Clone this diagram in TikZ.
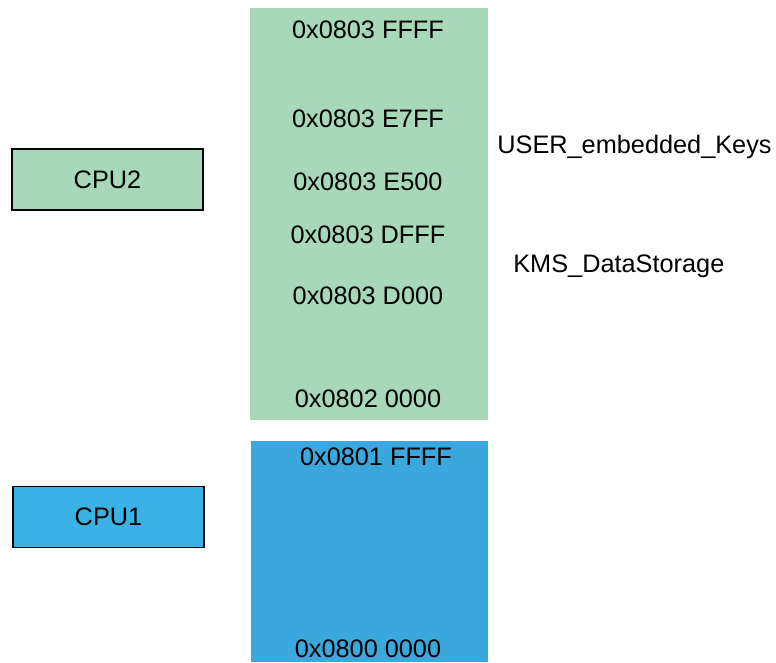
\documentclass[tikz,border=0pt]{standalone}
\usepackage{fontspec}
\setmainfont{Liberation Sans}
\usepackage{tikz}
\usetikzlibrary{calc}
\definecolor{flashgreen}{RGB}{166,216,185}
\definecolor{flashblue}{RGB}{58,168,220}
\definecolor{cpublue}{RGB}{59,178,229}
\tikzset{
  addr/.style={font=\fontsize{14.4}{17}\selectfont, inner sep=0pt},
  cpubox/.style={draw, line width=0.9pt, minimum width=3.82cm, minimum height=1.22cm, font=\fontsize{14.4}{17}\selectfont}
}

\begin{document}
\begin{tikzpicture}
\useasboundingbox (0,0) rectangle (15.52,13.24);
% flash banks
\fill [flashgreen] (5,4.84) rectangle (9.76,13.08);
\fill [flashblue] (5.02,0) rectangle (9.76,4.42);
% cpus
\node [cpubox, fill = flashgreen] (cpu2) at (2.15,9.65) {CPU2};
\node [cpubox, fill = cpublue] (cpu1) at (2.17,2.90) {CPU1};
% addresses of CPU2 bank
\node [addr] (a3ffff) at (7.36,12.64) {0x0803 FFFF};
\node [addr] (a3e7ff) at (7.36,10.86) {0x0803 E7FF};
\node [addr] (a3e500) at (7.36,9.60) {0x0803 E500};
\node [addr] (a3dfff) at (7.36,8.54) {0x0803 DFFF};
\node [addr] (a3d000) at (7.36,7.32) {0x0803 D000};
\node [addr] (a20000) at (7.36,5.26) {0x0802 0000};
% addresses of CPU1 bank
\node [addr] (a1ffff) at (7.52,4.10) {0x0801 FFFF};
\node [addr] (a00000) at (7.36,0.26) {0x0800 0000};
% regions
\node [addr, anchor=west] (userkeys) at (9.94,10.30) {USER\_embedded\_Keys};
\node [addr, anchor=west] (kmsdata) at (10.26,7.92) {KMS\_DataStorage};
\end{tikzpicture}
\end{document}
